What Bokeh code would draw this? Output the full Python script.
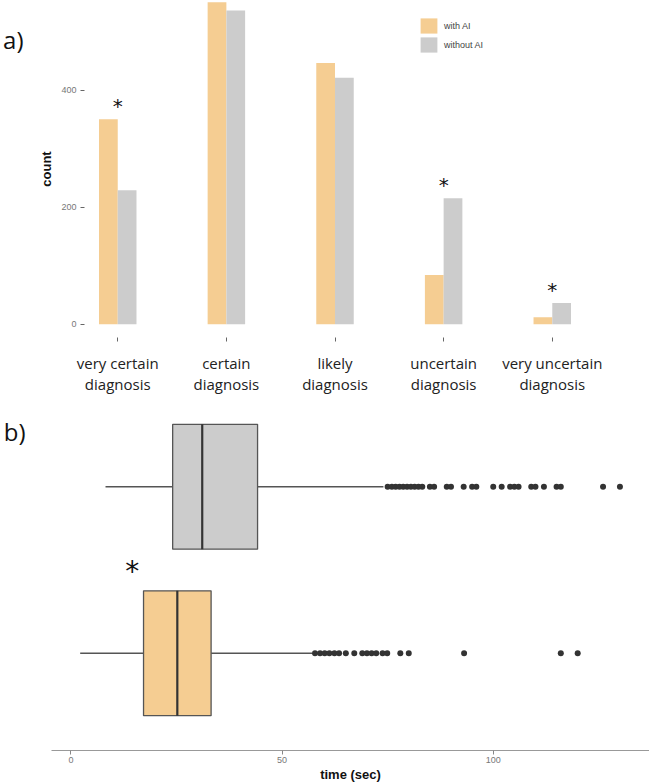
from bokeh.plotting import figure
from bokeh.layouts import column
from bokeh.models import FixedTicker, Legend, LegendItem, Range1d, ColumnDataSource, LinearAxis
from bokeh.core.properties import value
from bokeh.embed import file_html
from bokeh.resources import INLINE

# ---------------- data: panel a ----------------
categories = ["very certain\ndiagnosis", "certain\ndiagnosis", "likely\ndiagnosis",
              "uncertain\ndiagnosis", "very uncertain\ndiagnosis"]
with_ai_counts = [350, 550, 446, 84, 12]
without_ai_counts = [229, 536, 421, 215, 36]
count_ticks = [0, 200, 400]
significant_cats = [1, 4, 5]          # 1-based category positions marked with *

# ---------------- data: panel b (time in sec) ----------------
box_groups = ["with AI", "without AI"]
box_lower_whisker = [2.2, 8.2]
box_q1 = [17.2, 24.1]
box_median = [25.2, 31.1]
box_q3 = [33.2, 44.2]
box_upper_whisker = [57.1, 74.0]
outliers_with_ai = [57.8, 59.0, 60.1, 61.2, 62.4, 63.5, 65.1, 67.1, 69.0, 70.1, 71.2, 72.3,
                    73.8, 74.9, 78.0, 80.0, 93.1, 116.0, 120.0]
outliers_without_ai = [75.0, 76.0, 76.9, 77.8, 78.7, 79.6, 80.5, 81.4, 82.3, 83.2,
                       85.0, 86.0, 89.0, 90.0, 93.0, 95.0, 96.0, 100.0, 102.0, 104.0,
                       105.0, 106.0, 109.0, 110.0, 112.0, 115.0, 116.0, 126.0, 130.0]
time_ticks = [0, 50, 100]
significant_box = "with AI"

ORANGE = "#F5CD92"
GREY = "#CCCCCC"
BAR_W = 0.1725

def panel_tag(fig, y, text, standoff):
    """A one-tick axis on the left that carries the panel letter."""
    ax = LinearAxis(ticker=FixedTicker(ticks=[y]), major_label_overrides={y: text},
                    axis_line_color=None, major_tick_line_color=None,
                    minor_tick_line_color=None, major_tick_out=0, major_tick_in=0,
                    major_label_standoff=standoff, major_label_text_font="Open Sans",
                    major_label_text_font_size="24px", major_label_text_color="#111111")
    fig.add_layout(ax, "left")

# ================= panel a =================
xs = list(range(1, len(categories) + 1))
p1 = figure(width=649, height=396, output_backend="svg", toolbar_location=None,
            x_range=Range1d(0.694, 5.895), y_range=Range1d(-22.8, 553),
            min_border_top=0, min_border_right=0, min_border_left=84, min_border_bottom=0)
src = ColumnDataSource(dict(
    xo=[x - BAR_W / 2 for x in xs], xg=[x + BAR_W / 2 for x in xs],
    w=with_ai_counts, wo=without_ai_counts))
r_with = p1.vbar(x="xo", top="w", bottom=0, width=BAR_W, source=src,
                 fill_color=ORANGE, line_color=None)
r_without = p1.vbar(x="xg", top="wo", bottom=0, width=BAR_W, source=src,
                    fill_color=GREY, line_color=None)

star_y = [max(with_ai_counts[c - 1], without_ai_counts[c - 1]) + 23 for c in significant_cats]
p1.text(x=significant_cats, y=star_y, text=["*"] * len(significant_cats),
        text_align="center", text_baseline="middle", text_font_size="20px",
        text_font=value("DejaVu Sans"), text_color="#111111")

legend = Legend(items=[LegendItem(label="with AI", renderers=[r_with]),
                       LegendItem(label="without AI", renderers=[r_without])],
                location=(334, 283), glyph_width=21, glyph_height=19, label_height=19,
                spacing=-1, padding=0, margin=0, border_line_color=None,
                background_fill_alpha=0, label_standoff=5,
                label_text_font_size="9px", label_text_color="#444444",
                label_text_font="Liberation Sans")
p1.add_layout(legend)

p1.xaxis.ticker = FixedTicker(ticks=xs)
p1.xaxis.major_label_overrides = {x: c for x, c in zip(xs, categories)}
p1.xaxis.axis_line_color = None
p1.xaxis.major_tick_out = 4
p1.xaxis.major_tick_in = 0
p1.xaxis.minor_tick_line_color = None
p1.xaxis.major_tick_line_color = "#666666"
p1.xaxis.major_label_text_font = "Open Sans"
p1.xaxis.major_label_text_font_size = "15px"
p1.xaxis.major_label_text_line_height = 1.05
p1.xaxis.major_label_text_color = "#222222"
p1.xaxis.major_label_standoff = 11

p1.yaxis.ticker = FixedTicker(ticks=count_ticks)
p1.yaxis.axis_line_color = None
p1.yaxis.major_tick_out = 4
p1.yaxis.major_tick_in = 0
p1.yaxis.minor_tick_line_color = None
p1.yaxis.major_tick_line_color = "#666666"
p1.yaxis.major_label_text_font = "Liberation Sans"
p1.yaxis.major_label_text_font_size = "9px"
p1.yaxis.major_label_text_color = "#777777"
p1.yaxis.major_label_standoff = 4
p1.yaxis.axis_label = "count"
p1.yaxis.axis_label_text_font = "Liberation Sans"
p1.yaxis.axis_label_text_font_style = "bold"
p1.yaxis.axis_label_text_font_size = "13px"
p1.yaxis.axis_label_text_color = "#111111"
p1.yaxis.axis_label_standoff = 4
p1.grid.visible = False
p1.outline_line_color = None
panel_tag(p1, 487, "a)", 13)

# ================= panel b =================
p2 = figure(width=649, height=388, output_backend="svg", toolbar_location=None,
            x_range=Range1d(-4.59, 137.0), y_range=Range1d(0.416, 2.542),
            min_border_top=0, min_border_right=0, min_border_left=48, min_border_bottom=32)
ys = [1, 2]
fills = [ORANGE, GREY]
BOX_H = 0.75
p2.segment(x0=box_lower_whisker, y0=ys, x1=box_q1, y1=ys, line_color="#555555", line_width=1.3)
p2.segment(x0=box_q3, y0=ys, x1=box_upper_whisker, y1=ys, line_color="#555555", line_width=1.3)
p2.hbar(y=ys, left=box_q1, right=box_q3, height=BOX_H, fill_color=fills,
        line_color="#555555", line_width=1.3)
p2.segment(x0=box_median, y0=[y - BOX_H / 2 for y in ys], x1=box_median,
           y1=[y + BOX_H / 2 for y in ys], line_color="#333333", line_width=2.2)
p2.scatter(x=outliers_with_ai, y=[1] * len(outliers_with_ai), size=6,
           fill_color="#333333", line_color=None)
p2.scatter(x=outliers_without_ai, y=[2] * len(outliers_without_ai), size=6,
           fill_color="#333333", line_color=None)
bi = box_groups.index(significant_box)
p2.text(x=[box_q1[bi] - 2.7], y=[ys[bi] + 0.49], text=["*"], text_align="center",
        text_baseline="middle", text_font_size="28px", text_font=value("DejaVu Sans"),
        text_color="#111111")

p2.yaxis.visible = False
p2.xaxis.ticker = FixedTicker(ticks=time_ticks)
p2.xaxis.axis_line_color = "#999999"
p2.xaxis.axis_line_width = 1.2
p2.xaxis.major_tick_out = 4
p2.xaxis.major_tick_in = 0
p2.xaxis.minor_tick_line_color = None
p2.xaxis.major_tick_line_color = "#888888"
p2.xaxis.major_label_text_font = "Liberation Sans"
p2.xaxis.major_label_text_font_size = "9px"
p2.xaxis.major_label_text_color = "#777777"
p2.xaxis.major_label_standoff = 2
p2.xaxis.axis_label = "time (sec)"
p2.xaxis.axis_label_text_font = "Liberation Sans"
p2.xaxis.axis_label_text_font_style = "bold"
p2.xaxis.axis_label_text_font_size = "13px"
p2.xaxis.axis_label_text_color = "#111111"
p2.xaxis.axis_label_standoff = 1
p2.grid.visible = False
p2.outline_line_color = None
panel_tag(p2, 2.33, "b)", 26)

layout = column(p1, column(p2))
open("out.html", "w").write(file_html(layout, INLINE))
